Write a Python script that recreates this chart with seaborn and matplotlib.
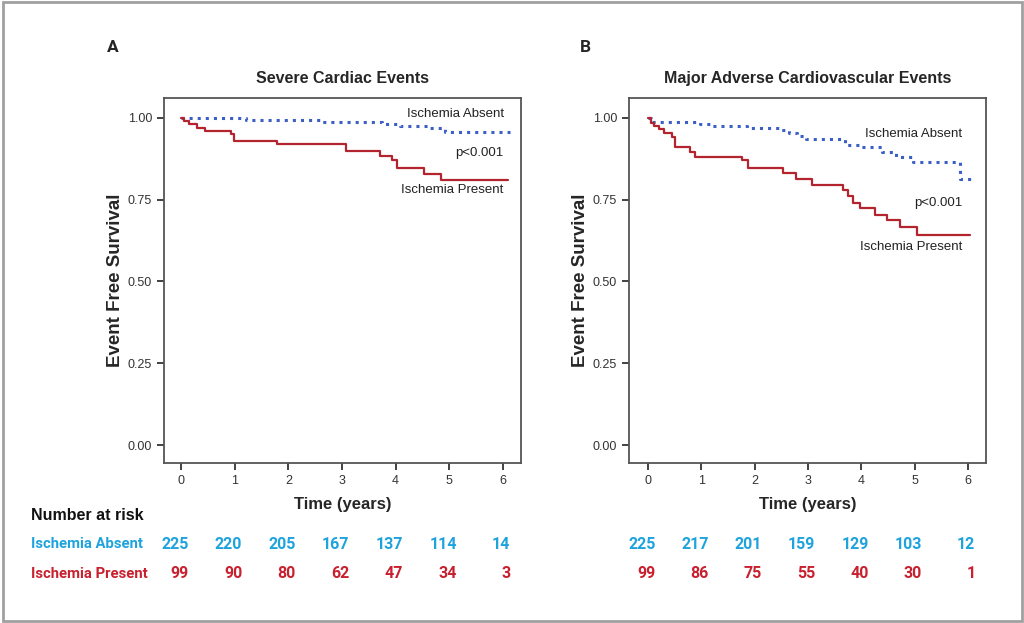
import matplotlib
matplotlib.use('Agg')
import matplotlib.pyplot as plt
import matplotlib.transforms as mtransforms
from matplotlib.patches import Rectangle
import seaborn as sns

# Kaplan-Meier step values
sce_absent_t = [0, 1.2, 2.63, 3.75, 4.08, 4.6, 4.92, 6.13]
sce_absent_s = [1.0, 0.995, 0.987, 0.98, 0.975, 0.968, 0.958, 0.958]
sce_present_t = [0, 0.05, 0.15, 0.3, 0.45, 0.92, 0.98, 1.78, 3.07, 3.7, 3.93, 4.02, 4.53, 4.85, 6.1]
sce_present_s = [1.0, 0.99, 0.98, 0.97, 0.96, 0.95, 0.93, 0.92, 0.90, 0.885, 0.87, 0.848, 0.83, 0.81, 0.81]

mace_absent_t = [0, 0.05, 0.975, 1.19, 1.85, 2.5, 2.65, 2.8, 2.97, 3.69, 4.0, 4.38, 4.66, 4.97, 5.85, 6.1]
mace_absent_s = [1.0, 0.987, 0.981, 0.974, 0.969, 0.962, 0.953, 0.944, 0.935, 0.918, 0.912, 0.897, 0.882, 0.864, 0.813, 0.813]
mace_present_t = [0, 0.05, 0.12, 0.2, 0.3, 0.45, 0.5, 0.79, 0.88, 1.76, 1.88, 2.53, 2.77, 3.07, 3.66,
                  3.76, 3.85, 3.97, 4.26, 4.48, 4.72, 5.04, 6.04]
mace_present_s = [1.0, 0.985, 0.975, 0.965, 0.955, 0.943, 0.912, 0.897, 0.882, 0.87, 0.846, 0.831, 0.813,
                  0.795, 0.78, 0.76, 0.74, 0.724, 0.704, 0.689, 0.668, 0.643, 0.643]

years = [0, 1, 2, 3, 4, 5, 6]
sce_risk_absent = [225, 220, 205, 167, 137, 114, 14]
sce_risk_present = [99, 90, 80, 62, 47, 34, 3]
mace_risk_absent = [225, 217, 201, 159, 129, 103, 12]
mace_risk_present = [99, 86, 75, 55, 40, 30, 1]

panel_letters = ['A', 'B']
titles = ['Severe Cardiac Events', 'Major Adverse Cardiovascular Events']

sns.set_style('ticks')
plt.rcParams['font.family'] = ['Liberation Sans', 'DejaVu Sans']
narrow = ['Roboto', 'Liberation Sans', 'DejaVu Sans']

blue = '#3b5fc4'
red = '#b3242f'
cyan = '#1ea3dd'
risk_red = '#c8202e'
spine = '#555555'

fig = plt.figure(figsize=(10.24, 6.23), dpi=100)
fig.patches.append(Rectangle((0.003, 0.004), 0.995, 0.992, transform=fig.transFigure,
                             fill=False, edgecolor='#a0a0a0', linewidth=2))

ax1 = fig.add_axes([0.1602, 0.2568, 0.3486, 0.5859])
ax2 = fig.add_axes([0.6143, 0.2568, 0.3486, 0.5859])

panels = [
    (ax1, sce_absent_t, sce_absent_s, sce_present_t, sce_present_s, sce_risk_absent, sce_risk_present, -0.32),
    (ax2, mace_absent_t, mace_absent_s, mace_present_t, mace_present_s, mace_risk_absent, mace_risk_present, -0.355),
]

for i, (ax, at, a_s, pt, p_s, ra, rp, xmin) in enumerate(panels):
    sns.lineplot(x=at, y=a_s, ax=ax, color=blue, linestyle=':', linewidth=2.2,
                 drawstyle='steps-post', estimator=None, sort=False)
    sns.lineplot(x=pt, y=p_s, ax=ax, color=red, linewidth=1.6,
                 drawstyle='steps-post', estimator=None, sort=False)
    ax.set_xlim(xmin, 6.34)
    ax.set_ylim(-0.055, 1.061)
    ax.set_xticks(years)
    ax.set_yticks([0, 0.25, 0.5, 0.75, 1.0])
    ax.set_yticklabels(['0.00', '0.25', '0.50', '0.75', '1.00'])
    ax.tick_params(labelsize=9, colors='#333333', length=5, width=1.3)
    for s in ax.spines.values():
        s.set_visible(True)
        s.set_color(spine)
        s.set_linewidth(1.3)
    ax.set_xlabel('Time (years)', fontsize=12, fontweight='bold', labelpad=7)
    ax.set_ylabel('Event Free Survival', fontsize=13.5, fontweight='bold', labelpad=3)
    ax.set_title(titles[i], fontsize=11.5, fontweight='bold', pad=11)

    # number at risk rows under each panel
    tr = mtransforms.blended_transform_factory(ax.transData, fig.transFigure)
    for x, a, p in zip(years, ra, rp):
        ax.text(x + 0.14, 0.1268, str(a), transform=tr, ha='right', va='center',
                fontsize=11.5, fontweight='bold', color=cyan, family=narrow)
        ax.text(x + 0.14, 0.0787, str(p), transform=tr, ha='right', va='center',
                fontsize=11.5, fontweight='bold', color=risk_red, family=narrow)

# curve annotations
ax1.text(6.02, 1.012, 'Ischemia Absent', ha='right', va='center', fontsize=9.5, color='#222222')
ax1.text(6.02, 0.894, 'p<0.001', ha='right', va='center', fontsize=9.5, color='#222222')
ax1.text(6.02, 0.78, 'Ischemia Present', ha='right', va='center', fontsize=9.5, color='#222222')
ax2.text(5.9, 0.952, 'Ischemia Absent', ha='right', va='center', fontsize=9.5, color='#222222')
ax2.text(5.9, 0.741, 'p<0.001', ha='right', va='center', fontsize=9.5, color='#222222')
ax2.text(5.9, 0.604, 'Ischemia Present', ha='right', va='center', fontsize=9.5, color='#222222')

fig.text(113 / 1024, 1 - 48 / 623, panel_letters[0], ha='center', va='center',
         fontsize=12.5, fontweight='bold', family=narrow)
fig.text(585 / 1024, 1 - 48 / 623, panel_letters[1], ha='center', va='center',
         fontsize=12.5, fontweight='bold', family=narrow)

fig.text(31 / 1024, 1 - 516 / 623, 'Number at risk', ha='left', va='center',
         fontsize=11.5, fontweight='bold', color='#111111')
fig.text(31 / 1024, 0.1268, 'Ischemia Absent', ha='left', va='center',
         fontsize=10.7, fontweight='bold', color=cyan, family=narrow)
fig.text(31 / 1024, 0.0787, 'Ischemia Present', ha='left', va='center',
         fontsize=10.7, fontweight='bold', color=risk_red, family=narrow)

fig.savefig('out.png', dpi=100)
